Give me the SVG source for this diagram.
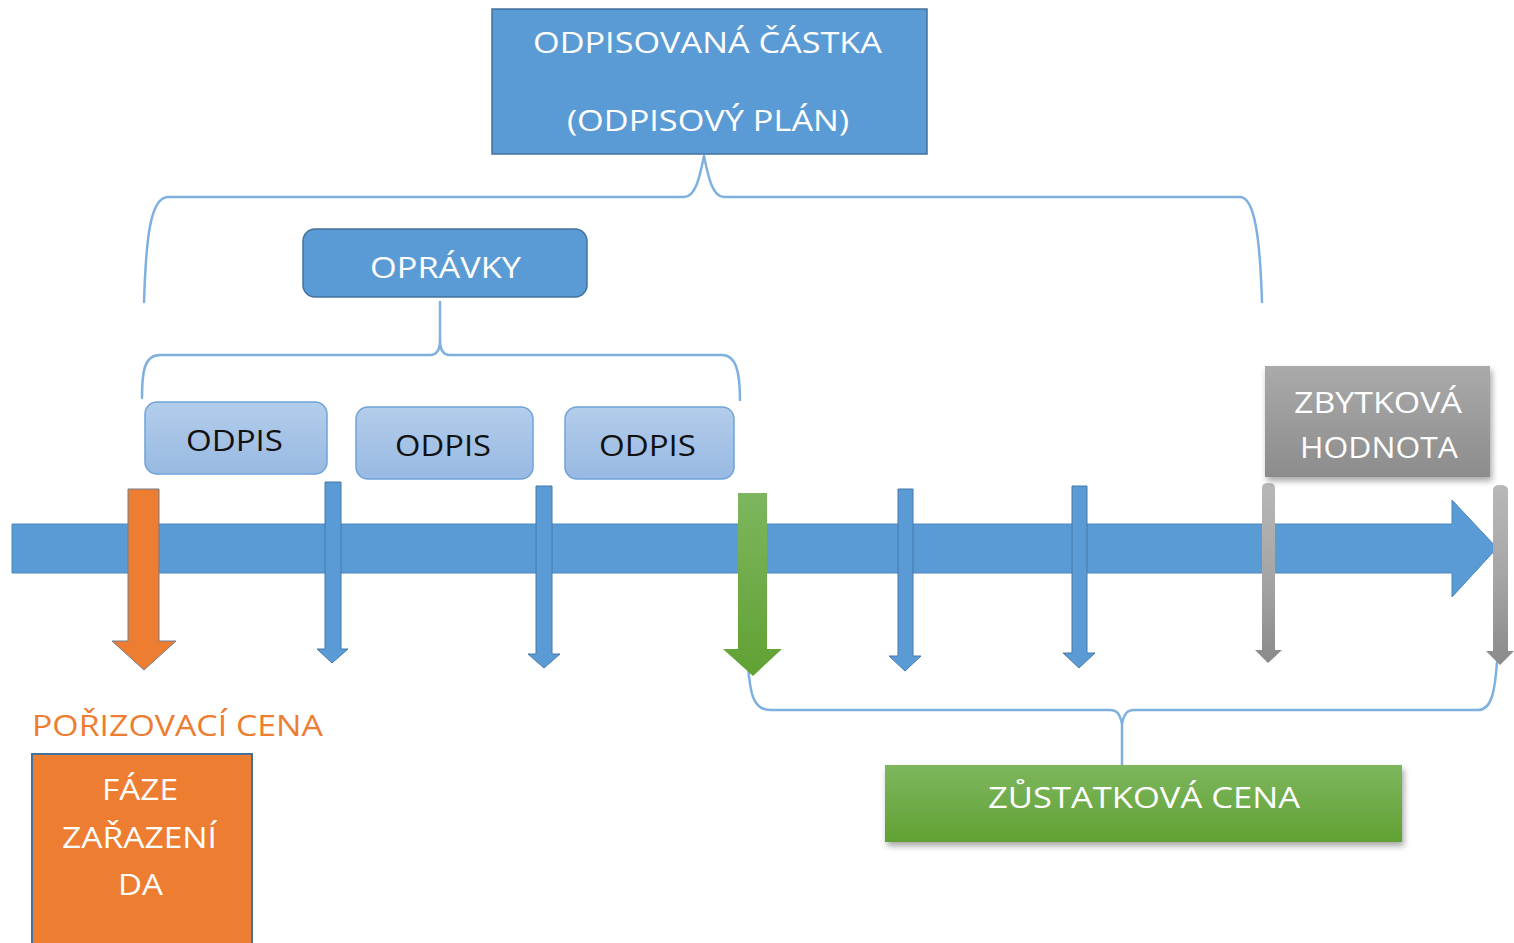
<svg xmlns="http://www.w3.org/2000/svg" width="1514" height="943" viewBox="0 0 1514 943">
<style>
  text { font-family: "Open Sans", "Liberation Sans", sans-serif; }
  .w { fill: #ffffff; font-size: 29px; }
  .k { fill: #111111; font-size: 30px; }
  .o { fill: #ED7D31; font-size: 29px; }
  .brace { fill: none; stroke: #7EB0E0; stroke-width: 2.5; stroke-linejoin: round; stroke-linecap: round; }
  .blue { fill: #5B9BD5; stroke: #41719C; stroke-width: 1.5; }
  .thin { fill: #5B9BD5; stroke: #4679A8; stroke-width: 1; }
  .odpis { fill: url(#gOdpis); stroke: #6FA3D8; stroke-width: 1.5; }
</style>
<defs>
  <linearGradient id="gOdpis" x1="0" y1="0" x2="0" y2="1">
    <stop offset="0" stop-color="#B3CDEB"/>
    <stop offset="1" stop-color="#98B9E2"/>
  </linearGradient>
  <linearGradient id="gGreen" x1="0" y1="0" x2="0" y2="1">
    <stop offset="0" stop-color="#7DB65E"/>
    <stop offset="1" stop-color="#61A133"/>
  </linearGradient>
  <linearGradient id="gGray" x1="0" y1="0" x2="0" y2="1">
    <stop offset="0" stop-color="#AAAAAA"/>
    <stop offset="1" stop-color="#8C8C8C"/>
  </linearGradient>
  <linearGradient id="gGrayArrow" x1="0" y1="0" x2="0" y2="1">
    <stop offset="0" stop-color="#B8B8B8"/>
    <stop offset="0.5" stop-color="#A6A6A6"/>
    <stop offset="1" stop-color="#8A8A8A"/>
  </linearGradient>
  <filter id="shadow" x="-10%" y="-20%" width="120%" height="150%">
    <feDropShadow dx="2" dy="4" stdDeviation="3" flood-color="#000000" flood-opacity="0.35"/>
  </filter>
</defs>

<!-- connectors (braces) -->
<g id="connectors">
  <path class="brace" d="M144,302 C146,240 150,197 168,197 L684,197 C696,197 700,175 704,156 C708,175 712,197 724,197 L1240,197 C1255,197 1260,240 1262,302"/>
  <path class="brace" d="M142,398 C142,372 144,355 160,355 L430,355 C437,355 440,350 440,340 L440,302 M440,340 C440,350 443,355 450,355 L722,355 C736,355 740,372 740,400"/>
  <path class="brace" d="M748,666 C750,690 752,710 770,710 L1110,710 C1117,710 1120,714 1122,724 L1122,765 M1122,724 C1124,714 1127,710 1134,710 L1478,710 C1492,710 1495,690 1497,662"/>
</g>

<!-- timeline -->
<g id="timeline">
  <polygon points="12,524 1452,524 1452,500 1497,548 1452,597 1452,573 12,573" fill="#5B9BD5" stroke="#4A86C0" stroke-width="1"/>
</g>

<g id="arrow-porizovaci">
  <polygon points="128,489 159,489 159,641 176,641 144,670 112,641 128,641" fill="#ED7D31" stroke="#6F7F92" stroke-width="1"/>
</g>
<g id="arrow-odpis1">
  <polygon class="thin" points="325,482 341,482 341,649 348,649 332,663 317,649 325,649"/>
</g>
<g id="arrow-odpis2">
  <polygon class="thin" points="536,486 552,486 552,654 560,654 544,668 528,654 536,654"/>
</g>
<g id="arrow-zustatkova">
  <polygon points="738,493 767,493 767,649 782,649 753,676 723,649 738,649" fill="url(#gGreen)"/>
</g>
<g id="arrow-4">
  <polygon class="thin" points="898,489 913,489 913,656 921,656 905,671 889,656 898,656"/>
</g>
<g id="arrow-5">
  <polygon class="thin" points="1072,486 1087,486 1087,653 1095,653 1079,668 1063,653 1072,653"/>
</g>
<g id="arrow-zbytkova1">
  <path d="M1262,488 Q1262,483 1268,483 Q1275,483 1275,488 L1275,650 L1282,650 L1268,663 L1255,650 L1262,650 Z" fill="url(#gGrayArrow)"/>
</g>
<g id="arrow-zbytkova2">
  <path d="M1493,490 Q1493,485 1500,485 Q1508,485 1508,490 L1508,651 L1514,651 L1500,665 L1486,651 L1493,651 Z" fill="url(#gGrayArrow)"/>
</g>

<!-- nodes -->
<g id="odpisovana-castka">
  <rect class="blue" x="492" y="9" width="435" height="145"/>
  <text class="w" x="533" y="53" textLength="349" lengthAdjust="spacingAndGlyphs">ODPISOVANÁ ČÁSTKA</text>
  <text class="w" x="567" y="131" textLength="282" lengthAdjust="spacingAndGlyphs">(ODPISOVÝ PLÁN)</text>
</g>

<g id="opravky">
  <rect class="blue" x="303" y="229" width="284" height="68" rx="12"/>
  <text class="w" x="370" y="278" textLength="151" lengthAdjust="spacingAndGlyphs">OPRÁVKY</text>
</g>

<g id="odpis-1">
  <rect class="odpis" x="145" y="402" width="182" height="72" rx="12"/>
  <text class="k" x="186" y="451" textLength="97" lengthAdjust="spacingAndGlyphs">ODPIS</text>
</g>
<g id="odpis-2">
  <rect class="odpis" x="356" y="407" width="177" height="72" rx="12"/>
  <text class="k" x="395" y="456" textLength="96" lengthAdjust="spacingAndGlyphs">ODPIS</text>
</g>
<g id="odpis-3">
  <rect class="odpis" x="565" y="407" width="169" height="72" rx="12"/>
  <text class="k" x="599" y="456" textLength="97" lengthAdjust="spacingAndGlyphs">ODPIS</text>
</g>

<g id="zbytkova-hodnota">
  <rect x="1265" y="366" width="225" height="111" fill="url(#gGray)" filter="url(#shadow)"/>
  <text class="w" x="1294" y="413" textLength="168" lengthAdjust="spacingAndGlyphs" fill="#F2F2F2">ZBYTKOVÁ</text>
  <text class="w" x="1300" y="458" textLength="158" lengthAdjust="spacingAndGlyphs" fill="#F2F2F2">HODNOTA</text>
</g>

<g id="porizovaci-cena">
  <text class="o" x="32" y="736" textLength="291" lengthAdjust="spacingAndGlyphs">POŘIZOVACÍ CENA</text>
</g>

<g id="faze-zarazeni">
  <rect x="32" y="754" width="220" height="200" fill="#ED7D31" stroke="#41719C" stroke-width="2"/>
  <text class="w" x="102" y="800" textLength="76" lengthAdjust="spacingAndGlyphs">FÁZE</text>
  <text class="w" x="62" y="848" textLength="155" lengthAdjust="spacingAndGlyphs">ZAŘAZENÍ</text>
  <text class="w" x="118" y="895" textLength="45" lengthAdjust="spacingAndGlyphs">DA</text>
</g>

<g id="zustatkova-cena">
  <rect x="885" y="765" width="517" height="77" fill="url(#gGreen)" filter="url(#shadow)"/>
  <text class="w" x="988" y="808" textLength="312" lengthAdjust="spacingAndGlyphs">ZŮSTATKOVÁ CENA</text>
</g>
</svg>
